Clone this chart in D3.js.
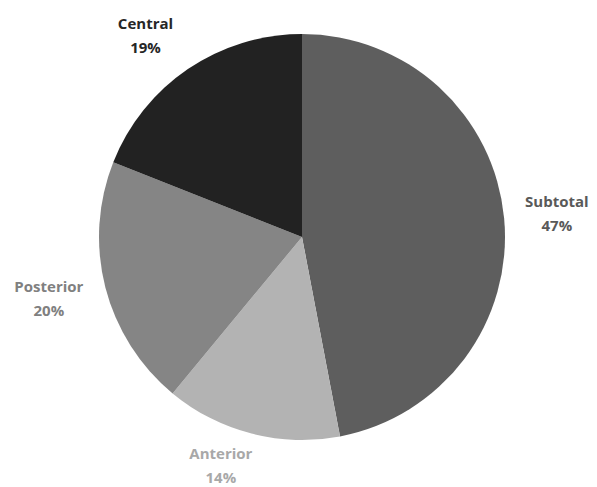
<!DOCTYPE html>
<html><head><meta charset="utf-8">
<script src="https://cdn.jsdelivr.net/npm/d3@7"></script>
<style>body{margin:0;background:#fff}svg{display:block}</style>
</head><body>
<script>
const categories = ["Subtotal", "Anterior", "Posterior", "Central"];
const values = [47, 14, 20, 19];
const sliceColors = ["#5e5e5e", "#b3b3b3", "#858585", "#222222"];
const labelColors = ["#595959", "#a8a8a8", "#808080", "#262626"];

const W = 597, H = 487;
const cx = 302, cy = 237, r = 203;
const svg = d3.select("body").append("svg").attr("width", W).attr("height", H);
const g = svg.append("g").attr("transform", `translate(${cx},${cy})`);

const pie = d3.pie().sort(null).value(d => d)(values);
const arc = d3.arc().innerRadius(0).outerRadius(r);

g.selectAll("path").data(pie).enter().append("path")
  .attr("d", arc).attr("fill", (d, i) => sliceColors[i]);

const labelR = 250;
const nudgeX = [6, -19, -11, -16];
const nudgeY = [1.5, -12, 1, 6.5];
pie.forEach((d, i) => {
  const a = (d.startAngle + d.endAngle) / 2;
  const x = Math.sin(a) * labelR + nudgeX[i];
  const y = -Math.cos(a) * labelR + nudgeY[i];
  const t = g.append("text").attr("text-anchor", "middle")
    .attr("font-family", "'Open Sans', sans-serif").attr("font-weight", "bold")
    .attr("font-size", 15).attr("fill", labelColors[i]);
  t.append("tspan").attr("x", x).attr("y", y - 8).text(categories[i]);
  t.append("tspan").attr("x", x).attr("y", y + 16).text(values[i] + "%");
});
</script>
</body></html>
